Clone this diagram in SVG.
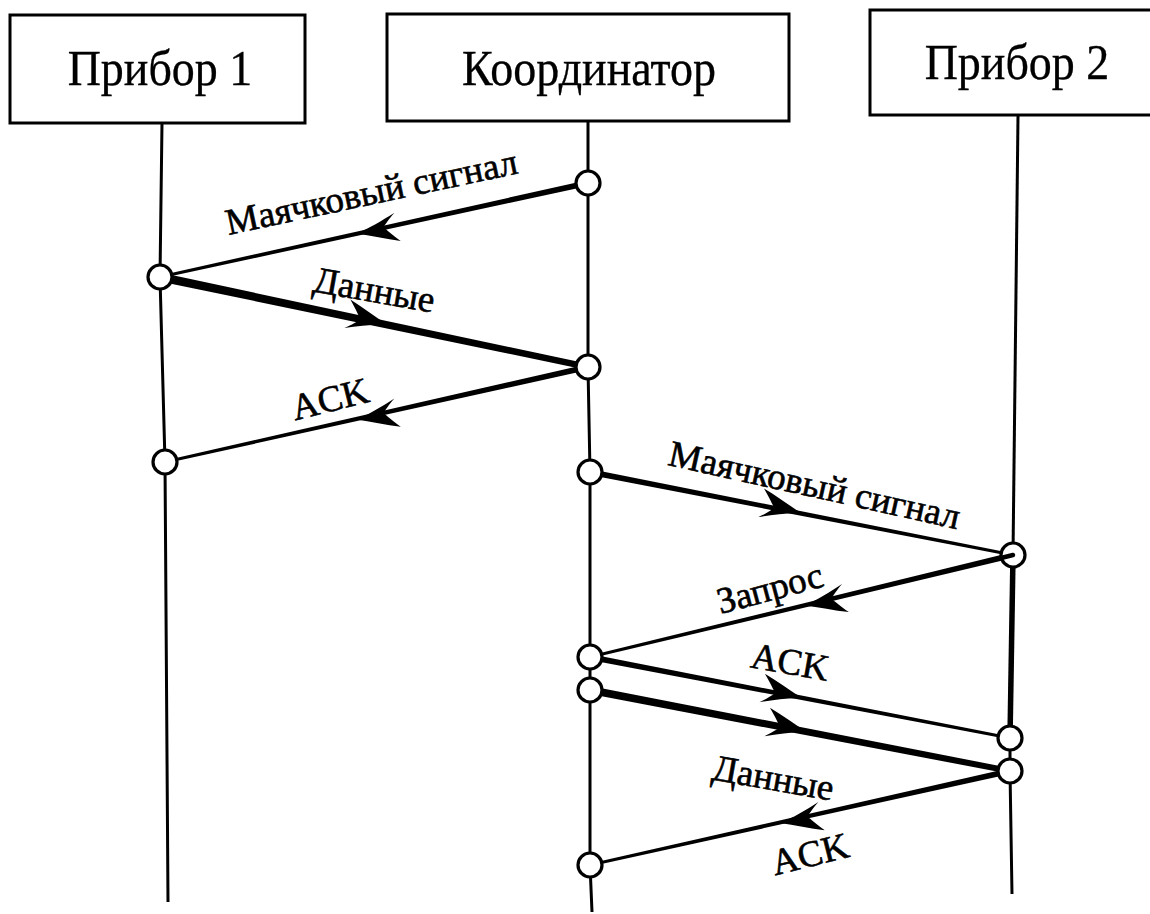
<svg xmlns="http://www.w3.org/2000/svg" xmlns:xlink="http://www.w3.org/1999/xlink" width="1150" height="914" viewBox="0 0 1150 914">
  <style>
    .box { fill: #ffffff; stroke: #000000; stroke-width: 3; }
    .title { font-family: "Liberation Serif", "DejaVu Serif", serif; font-size: 46px; fill: #000000; text-anchor: middle; stroke: #000000; stroke-width: 0.3; }
    .lbl { font-family: "Liberation Serif", "DejaVu Serif", serif; font-size: 37px; fill: #000000; text-anchor: middle; stroke: #000000; stroke-width: 0.6; }
    .life { fill: none; stroke: #000000; stroke-width: 3; }
    .life-bold { fill: none; stroke: #000000; stroke-width: 5.5; }
    .msg { fill: #000000; stroke: none; }
    .pt { fill: #ffffff; stroke: #000000; stroke-width: 3.2; }
  </style>
  <defs>
    <!-- barbed arrowhead, tip at origin, pointing along +x -->
    <path id="ah" d="M2 0 C-12 -5 -26 -12 -40 -17 C-32 -8 -29 -3 -26 0 C-29 3 -33 7 -40 12 C-26 7 -12 2 2 0 Z" fill="#000000"/>
  </defs>

  <rect width="1150" height="914" fill="#ffffff"/>

  <!-- lifelines -->
  <g id="lifelines">
    <polyline class="life" points="162,123 160,277 165,462 168,902"/>
    <polyline class="life" points="588,120 588,183 588,367 590,472 590,657 590,690 590,865 592,912"/>
    <polyline class="life" points="1018,116 1013,555"/>
    <polyline class="life-bold" points="1013,555 1010,738"/>
    <polyline class="life" points="1010,738 1010,771 1012,894"/>
  </g>

  <!-- participants -->
  <g id="device1">
    <rect class="box" x="10" y="15" width="295" height="108"/>
    <text class="title" transform="translate(160,85) scale(1,1.12)">Прибор 1</text>
  </g>
  <g id="coordinator">
    <rect class="box" x="387" y="14" width="402" height="107"/>
    <text class="title" transform="translate(589,85) scale(1,1.12)">Координатор</text>
  </g>
  <g id="device2">
    <rect class="box" x="870" y="10" width="290" height="105"/>
    <text class="title" transform="translate(1017,79) scale(1,1.12)">Прибор 2</text>
  </g>

  <!-- messages: tapered strokes with barbed heads -->
  <g id="connectors">
    <!-- beacon to device 1 -->
    <polygon class="msg" points="588,180 160,275.5 160,278.5 588,186"/>
    <use xlink:href="#ah" transform="translate(358,233) rotate(167.6)"/>
    <!-- data from device 1 -->
    <polygon class="msg" points="160,272.6 588,363.8 588,370.2 160,281.4"/>
    <use xlink:href="#ah" transform="translate(386,324.5) rotate(11.9)"/>
    <!-- ACK to device 1 -->
    <polygon class="msg" points="588,364 165,460.5 165,463.5 588,370"/>
    <use xlink:href="#ah" transform="translate(358,419) rotate(167.3)"/>
    <!-- beacon to device 2 -->
    <polygon class="msg" points="590,469 1013,553.5 1013,556.5 590,475"/>
    <use xlink:href="#ah" transform="translate(800,513) rotate(11.1)"/>
    <!-- request from device 2 -->
    <polygon class="msg" points="1013,552 590,655.5 590,658.5 1013,558"/>
    <use xlink:href="#ah" transform="translate(806,605) rotate(166.4)"/>
    <!-- ACK to device 2 -->
    <polygon class="msg" points="590,654 1010,736.5 1010,739.5 590,660"/>
    <use xlink:href="#ah" transform="translate(801,698) rotate(10.9)"/>
    <!-- data to device 2 -->
    <polygon class="msg" points="590,686 1010,768 1010,774 590,694"/>
    <use xlink:href="#ah" transform="translate(806,732) rotate(10.9)"/>
    <!-- ACK from device 2 -->
    <polygon class="msg" points="1010,768 590,863.5 590,866.5 1010,774"/>
    <use xlink:href="#ah" transform="translate(782,822.5) rotate(167.4)"/>
  </g>

  <!-- event points on lifelines -->
  <g id="points">
    <circle class="pt" cx="588" cy="183" r="12"/>
    <circle class="pt" cx="160" cy="277" r="12"/>
    <circle class="pt" cx="588" cy="367" r="12"/>
    <circle class="pt" cx="165" cy="462" r="12"/>
    <circle class="pt" cx="590" cy="472" r="12"/>
    <circle class="pt" cx="1013" cy="555" r="12"/>
    <circle class="pt" cx="590" cy="657" r="12"/>
    <circle class="pt" cx="590" cy="690" r="12"/>
    <circle class="pt" cx="1010" cy="738" r="12"/>
    <circle class="pt" cx="1010" cy="771" r="12"/>
    <circle class="pt" cx="590" cy="865" r="12"/>
    <!-- request stroke runs into the centre of its start point -->
    <line x1="1001" y1="558" x2="1013" y2="555" stroke="#000000" stroke-width="4.5" stroke-linecap="round"/>
  </g>

  <!-- message labels -->
  <g id="labels">
    <text class="lbl" transform="translate(374,204) rotate(-12)">Маячковый сигнал</text>
    <text class="lbl" transform="translate(372,302) rotate(10)">Данные</text>
    <text class="lbl" transform="translate(333,411) rotate(-14)">ACK</text>
    <text class="lbl" transform="translate(812,497) rotate(12.5)">Маячковый сигнал</text>
    <text class="lbl" transform="translate(773,600) rotate(-15)">Запрос</text>
    <text class="lbl" transform="translate(788,674) rotate(10)">ACK</text>
    <text class="lbl" transform="translate(771,790) rotate(10)">Данные</text>
    <text class="lbl" transform="translate(813,866) rotate(-14)">ACK</text>
  </g>
</svg>
